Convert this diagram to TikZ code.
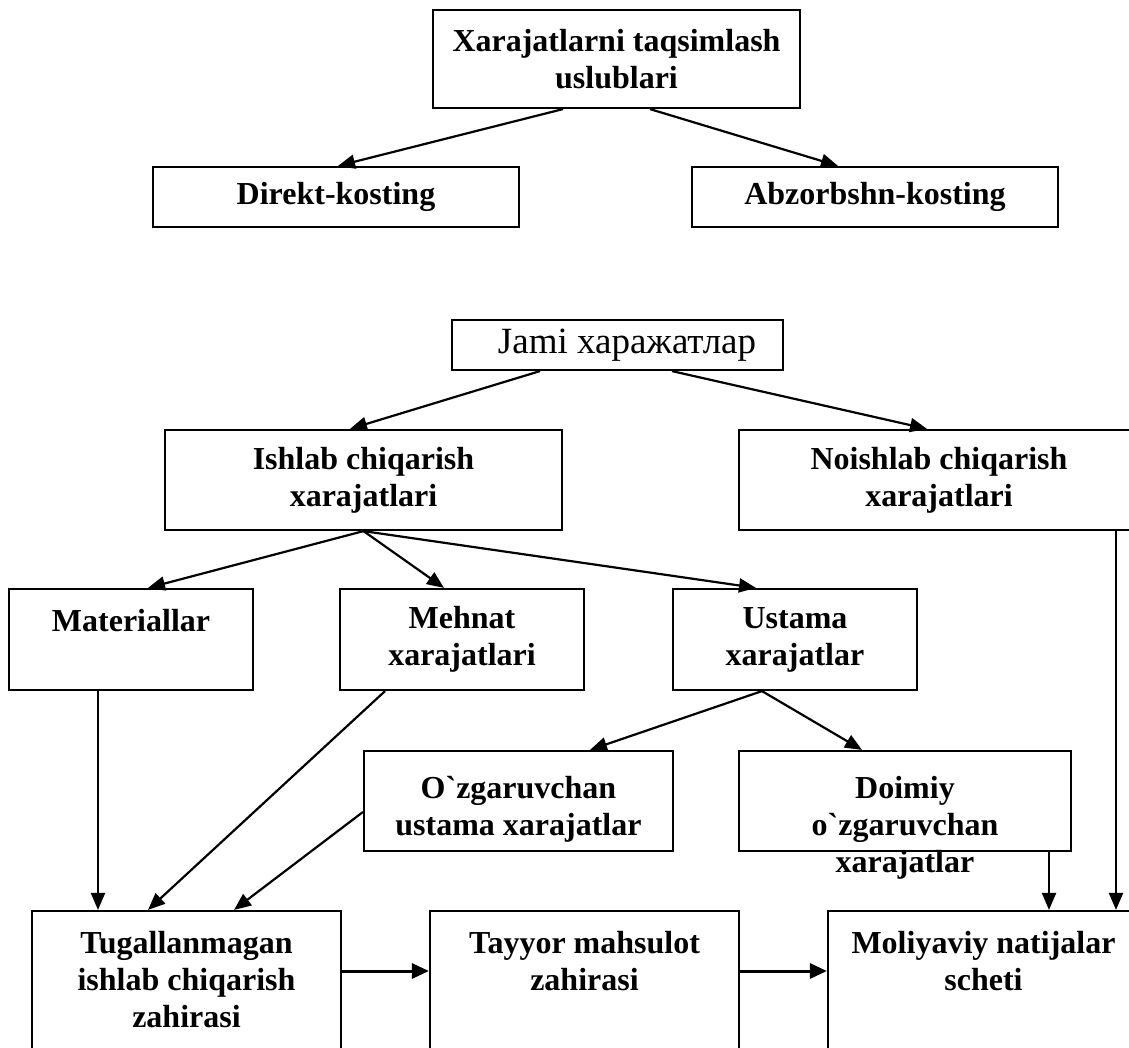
\documentclass[tikz,border=0pt]{standalone}
\usepackage{fontspec}
\setmainfont{Liberation Serif}
\usetikzlibrary{arrows.meta}
\newcommand\bxfont{\fontsize{32}{37}\selectfont\bfseries}
\newcommand\grv{\textasciigrave}
\begin{document}
\begin{tikzpicture}[x=1pt,y=-1pt,
  box/.style={draw, line width=2.2pt, inner sep=0pt, align=center, font=\bxfont},
  txt/.style={inner sep=0pt, align=center, font=\bxfont, anchor=north},
  arr/.style={line width=2.2pt, -{Triangle[length=17pt,width=14pt]}},
  harr/.style={line width=3pt, -{Triangle[length=17pt,width=15pt]}}
]
\fill[white] (0,0) rectangle (1129,1048);
\useasboundingbox (0,0) rectangle (1129,1048);
\clip (0,0) rectangle (1129,1048);

% top diagram
\node[box, minimum width=367pt, minimum height=98pt] (b1) at (616.5,59) {Xarajatlarni taqsimlash\\uslublari};
\node[box, minimum width=366pt, minimum height=60pt] (dk) at (336,197) {Direkt-kosting};
\node[box, minimum width=366pt, minimum height=60pt] (ak) at (875,197) {Abzorbshn-kosting};
\draw[arr] ([xshift=-53.5pt]b1.south) -- ([xshift=2pt]dk.north);
\draw[arr] ([xshift=33.5pt]b1.south) -- ([xshift=-37pt]ak.north);

% second diagram
\node[box, minimum width=331pt, minimum height=50pt] (jami) at (617.5,345) {};
\node[inner sep=0pt, font=\fontsize{37}{42}\selectfont] (jamit) at (627,345) {Jami харажатлар};
\node[box, minimum width=397pt, minimum height=100pt] (ich) at (363.5,480) {Ishlab chiqarish\\xarajatlari};
\node[box, minimum width=400pt, minimum height=100pt] (noi) at (939,480) {Noishlab chiqarish\\xarajatlari};
\draw[arr] ([xshift=-77.5pt]jami.south) -- ([xshift=-13.5pt]ich.north);
\draw[arr] ([xshift=54.5pt]jami.south) -- ([xshift=-12pt]noi.north);

\node[box, minimum width=244pt, minimum height=101pt] (mat) at (131,639.5) {};
\node[txt] (matt) at ([yshift=-21pt]mat.north) {Materiallar};
\node[box, minimum width=244pt, minimum height=101pt] (meh) at (462,639.5) {Mehnat\\xarajatlari};
\node[box, minimum width=244pt, minimum height=101pt] (ust) at (795,639.5) {Ustama\\xarajatlar};
\draw[arr] (ich.south) -- ([xshift=17pt]mat.north);
\draw[arr] (ich.south) -- ([xshift=-18pt]meh.north);
\draw[arr] (ich.south) -- ([xshift=-39pt]ust.north);

\node[box, minimum width=309pt, minimum height=100pt] (ozg) at (518.5,801) {};
\node[txt] (ozgt) at ([yshift=-26pt]ozg.north) {O\grv zgaruvchan\\ustama xarajatlar};
\node[box, minimum width=332pt, minimum height=100pt] (doi) at (905,801) {};
\node[txt] (doit) at ([yshift=-26pt]doi.north) {Doimiy\\o\grv zgaruvchan\\xarajatlar};
\draw[arr] ([xshift=-33pt]ust.south) -- ([xshift=71.5pt]ozg.north);
\draw[arr] ([xshift=-33pt]ust.south) -- ([xshift=-43pt]doi.north);

\node[box, minimum width=309pt, minimum height=169pt] (tug) at (186.5,995.5) {};
\node[txt] (tugt) at ([yshift=-21pt]tug.north) {Tugallanmagan\\ishlab chiqarish\\zahirasi};
\node[box, minimum width=309pt, minimum height=169pt] (tay) at (584.5,995.5) {};
\node[txt] (tayt) at ([yshift=-21pt]tay.north) {Tayyor mahsulot\\zahirasi};
\node[box, minimum width=311pt, minimum height=169pt] (mol) at (983.5,995.5) {};
\node[txt] (molt) at ([yshift=-21pt]mol.north) {Moliyaviy natijalar\\scheti};

\draw[arr] ([xshift=-33pt]mat.south) -- ([xshift=-88.5pt]tug.north);
\draw[arr] ([xshift=-77pt]meh.south) -- ([xshift=-38.5pt]tug.north);
\draw[arr] ([yshift=-11pt]ozg.west) -- ([xshift=47.5pt]tug.north);
\draw[arr] ([xshift=144pt]doi.south) -- ([xshift=65.5pt]mol.north);
\draw[arr] ([xshift=177pt]noi.south) -- ([xshift=132.5pt]mol.north);
\draw[harr] ([yshift=24.5pt]tug.east) -- ([yshift=24.5pt]tay.west);
\draw[harr] ([yshift=24.5pt]tay.east) -- ([yshift=24.5pt]mol.west);
\end{tikzpicture}
\end{document}
